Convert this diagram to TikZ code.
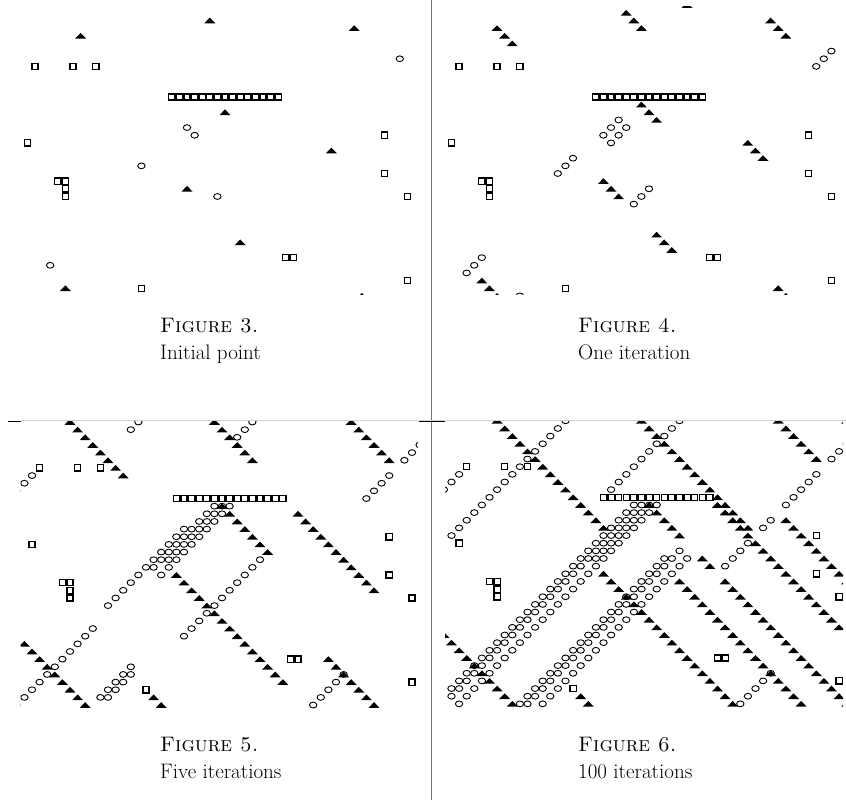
\documentclass[tikz,border=0pt]{standalone}
\usepackage{fontspec}
\newcommand\Tri[2]{\fill[black,shift={({(#1)*7.6},{(#2)*7.65})}] (-5.5,2.8) -- (5.5,2.8) -- (0,-2.9) -- cycle;}
\newcommand\Cir[2]{\draw[line width=0.9pt] ({(#1)*7.6},{(#2)*7.65}) ellipse [x radius=3.7, y radius=2.9];}
\newcommand\Sq[2]{\draw[line width=1.3pt] ({(#1)*7.6-3.1},{(#2)*7.65-3.1}) rectangle ++(6.2,6.2);}
\newcommand\TriRun[3]{\foreach \k in {1,...,#3}{\Tri{#1+\k-1}{#2+\k-1}}}
\newcommand\CirRun[3]{\foreach \k in {1,...,#3}{\Cir{#1+\k-1}{#2-\k+1}}}
\newcommand\Walls{%
  \foreach \p/\q in {1/6,6/6,9/6,0/16,47/15,47/20,50/23,4/21,5/21,5/22,5/23,34/31,35/31,15/35,50/34}{\Sq{\p}{\q}}
  \foreach \p in {19,...,33}{\Sq{\p}{10}}}
\tikzset{caption/.style={anchor=base west, font=\fontsize{21}{25}\selectfont, inner sep=0pt}}
\begin{document}
\begin{tikzpicture}[x=1pt,y=-1pt]
\useasboundingbox (0,0) rectangle (846,805);
% separators
\draw[black!55, line width=1.3pt] (431.7,0) -- (431.7,800);
\draw[black!18, line width=0.8pt] (20.5,420.5) -- (846,420.5);
\draw[black, line width=0.9pt] (8,421) -- (20.5,421);
\draw[black, line width=0.9pt] (419,421) -- (445,421);
% ---------- Figure 3 : initial point ----------
\begin{scope}
\clip (20,7) rectangle (421,294);
\begin{scope}[shift={(27.4,20.5)}]
\Walls
\foreach \p/\q in {7/2,24/0,43/1,26/12,40/17,21/22,28/29,5/35,44/36}{\Tri{\p}{\q}}
\foreach \p/\q in {49/5,21/14,22/15,15/19,25/23,3/32}{\Cir{\p}{\q}}
\end{scope}
\end{scope}
% ---------- Figure 4 : one iteration ----------
\begin{scope}
\clip (444,7) rectangle (845,294);
\begin{scope}[shift={(451.4,20.5)}]
\Walls
\foreach \p/\q in {6/1,23/-1,42/0,25/11,39/16,20/21,27/28,4/34,43/35,29/-4}{\TriRun{\p}{\q}{3}}
\foreach \p/\q in {48/6,20/15,21/16,14/20,24/24,2/33,7/38}{\CirRun{\p}{\q}{3}}
\end{scope}
\end{scope}
% ---------- Figure 5 : five iterations ----------
\begin{scope}
\clip (20.5,421) rectangle (418,708);
\begin{scope}[shift={(32,422)}]
\Walls
\TriRun{2}{-3}{11}
\TriRun{19}{-5}{11}
\TriRun{38}{-4}{10}
\TriRun{25}{11}{7}
\TriRun{35}{12}{11}
\TriRun{19}{20}{15}
\TriRun{-1}{29}{10}
\TriRun{39}{31}{8}
\TriRun{16}{36}{3}
\CirRun{44}{10}{4}
\CirRun{49}{5}{3}
\CirRun{-2}{9}{3}
\CirRun{13}{1}{3}
\CirRun{27}{2}{3}
\CirRun{10}{24}{11}
\CirRun{16}{19}{9}
\CirRun{18}{18}{8}
\CirRun{17}{20}{10}
\CirRun{20}{28}{11}
\CirRun{-2}{37}{11}
\CirRun{9}{36}{5}
\CirRun{10}{36}{4}
\CirRun{37}{37}{5}
\end{scope}
\end{scope}
% ---------- Figure 6 : 100 iterations ----------
\begin{scope}
\clip (445,421) rectangle (843,708);
\begin{scope}[shift={(459.1,420.8)}]
\Walls
\TriRun{3}{-2}{17}
\TriRun{22}{-2}{17}
\TriRun{34}{11}{17}
\TriRun{40}{-2}{8}
\TriRun{51}{0}{2}
\TriRun{43}{13}{9}
\TriRun{25}{11}{5}
\TriRun{32}{18}{2}
\TriRun{35}{21}{17}
\TriRun{29}{21}{17}
\TriRun{19}{20}{18}
\TriRun{-3}{27}{11}
\TriRun{16}{36}{2}
\CirRun{-2}{9}{3}
\CirRun{-1}{15}{17}
\CirRun{20}{9}{11}
\CirRun{-1}{35}{25}
\CirRun{-1}{36}{26}
\CirRun{18}{18}{8}
\CirRun{0}{37}{27}
\CirRun{8}{37}{20}
\CirRun{9}{37}{21}
\CirRun{11}{37}{20}
\CirRun{35}{19}{4}
\CirRun{40}{14}{2}
\CirRun{43}{11}{5}
\CirRun{49}{5}{3}
\CirRun{37}{37}{5}
\end{scope}
\end{scope}
% captions
\node[caption] (c3a) at (160,332) {\textsc{Figure 3.}};
\node[caption] (c3b) at (160,359) {Initial point};
\node[caption] (c4a) at (578,332) {\textsc{Figure 4.}};
\node[caption] (c4b) at (578,359) {One iteration};
\node[caption] (c5a) at (160,751) {\textsc{Figure 5.}};
\node[caption] (c5b) at (160,778) {Five iterations};
\node[caption] (c6a) at (578,751) {\textsc{Figure 6.}};
\node[caption] (c6b) at (578,778) {100 iterations};
\end{tikzpicture}
\end{document}
